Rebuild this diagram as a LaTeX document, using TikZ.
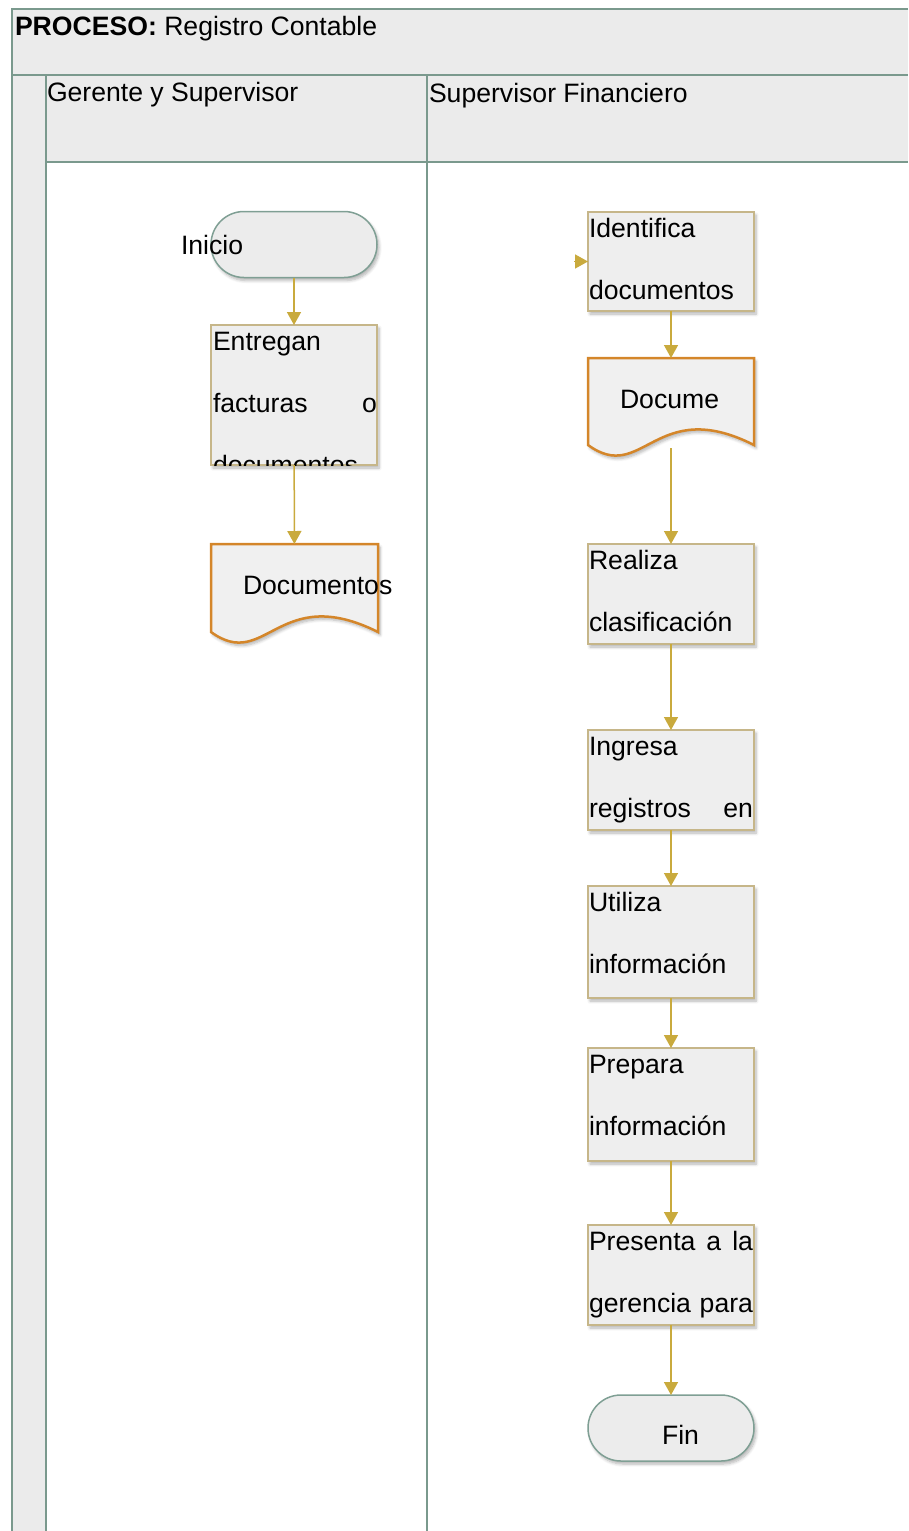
\documentclass[tikz,border=0pt]{standalone}
\usepackage{fontspec}
\setmainfont{Liberation Sans}
\usetikzlibrary{arrows.meta,shadows.blur}

\definecolor{framec}{HTML}{7A998D}
\definecolor{bandfill}{HTML}{EBEBEB}
\definecolor{boxfill}{HTML}{EEEEEE}
\definecolor{boxline}{HTML}{C6B689}
\definecolor{docline}{HTML}{D4862A}
\definecolor{docfill}{HTML}{F0F0F0}
\definecolor{termline}{HTML}{7F9F94}
\definecolor{termfill}{HTML}{ECECEC}
\definecolor{arrowc}{HTML}{C9AA3D}

\begin{document}
\begin{tikzpicture}[x=1pt,y=-1pt,
  every node/.style={font=\fontsize{26.6}{31}\selectfont, inner sep=0pt, outer sep=0pt},
  lbl/.style={anchor=base west},
  lane/.style={draw=framec, line width=2pt},
  softshadow/.style={blur shadow={shadow xshift=2pt, shadow yshift=-3pt,
      shadow blur steps=6, shadow blur radius=3pt, shadow opacity=30}},
  procbox/.style={draw=boxline, line width=1.5pt, fill=boxfill,
      minimum width=166pt, softshadow},
  termbox/.style={draw=termline, line width=1.5pt, fill=termfill,
      rounded corners=33pt, minimum width=166pt, minimum height=66pt, softshadow},
  docbox/.style={draw=docline, line width=2.5pt, fill=docfill, softshadow},
  anchorbox/.style={draw=none, fill=none, minimum width=167pt},
  flow/.style={draw=arrowc, line width=1.5pt,
      -{Triangle[length=13pt, width=14pt]}}]

\useasboundingbox (0,0) rectangle (908,1531);

% swimlane frame
\fill[bandfill] (12,9) rectangle (908,75);
\fill[bandfill] (12,75) rectangle (46,1531);
\fill[bandfill] (46,75) rectangle (908,162);
\draw[lane] (908,9) -- (12,9) -- (12,1531);
\draw[lane] (12,75) -- (908,75);
\draw[lane] (46,75) -- (46,1531);
\draw[lane] (46,162) -- (908,162);
\draw[lane] (427,75) -- (427,1531);

\node[lbl] (title) at (15,35) {\textbf{PROCESO:} Registro Contable};
\node[lbl] (laneA) at (47,101) {Gerente y Supervisor};
\node[lbl] (laneB) at (429,102) {Supervisor Financiero};

% ---- lane: Gerente y Supervisor ----
\node[termbox] (inicio) at (294,244.5) {};
\node[lbl] (inicioT) at (181,254) {Inicio};

\node[procbox, minimum height=140pt] (entregan) at (294,395) {};
\begin{scope}
  \clip (entregan.north west) rectangle (entregan.south east);
  \node[lbl] (entreganA) at (213,350) {Entregan};
  \node[lbl] (entreganB) at (213,412) {\hbox to 164pt{facturas\hfill o}};
  \node[lbl] (entreganC) at (213,474) {documentos};
\end{scope}

\path[docbox] (211,544) -- (378,544) -- (378,632)
  .. controls (278,582) and (266,672) .. (211,632) -- cycle;
\node[anchorbox, minimum height=88pt] (docs) at (294.5,588) {};
\node[lbl] (docsT) at (243,594) {Documentos};

% ---- lane: Supervisor Financiero ----
\node[procbox, minimum height=99pt] (ident) at (671,261.5) {};
\begin{scope}
  \clip (ident.north west) rectangle (ident.south east);
  \node[lbl] (identA) at (589,237) {Identifica};
  \node[lbl] (identB) at (589,299) {documentos};
\end{scope}

\path[docbox] (588,358) -- (754,358) -- (754,445)
  .. controls (655,395) and (643,485) .. (588,445) -- cycle;
\node[anchorbox, minimum height=90pt] (docume) at (671,403) {};
\begin{scope}
  \clip (590,360) rectangle (752,408);
  \node[lbl] (documeT) at (620,408) {Docume};
\end{scope}

\node[procbox, minimum height=100pt] (realiza) at (671,594) {};
\begin{scope}
  \clip (realiza.north west) rectangle (realiza.south east);
  \node[lbl] (realizaA) at (589,569) {Realiza};
  \node[lbl] (realizaB) at (589,631) {clasificación};
\end{scope}

\node[procbox, minimum height=100pt] (ingresa) at (671,780) {};
\begin{scope}
  \clip (ingresa.north west) rectangle (ingresa.south east);
  \node[lbl] (ingresaA) at (589,755) {Ingresa};
  \node[lbl] (ingresaB) at (589,817) {\hbox to 164pt{registros\hfill en}};
\end{scope}

\node[procbox, minimum height=112pt] (utiliza) at (671,942) {};
\begin{scope}
  \clip (utiliza.north west) rectangle (utiliza.south east);
  \node[lbl] (utilizaA) at (589,911) {Utiliza};
  \node[lbl] (utilizaB) at (589,973) {información};
\end{scope}

\node[procbox, minimum height=113pt] (prepara) at (671,1104.5) {};
\begin{scope}
  \clip (prepara.north west) rectangle (prepara.south east);
  \node[lbl] (preparaA) at (589,1073) {Prepara};
  \node[lbl] (preparaB) at (589,1135) {información};
\end{scope}

\node[procbox, minimum height=100pt] (presenta) at (671,1275) {};
\begin{scope}
  \clip (presenta.north west) rectangle (presenta.south east);
  \node[lbl] (presentaA) at (589,1250) {\hbox to 164pt{Presenta\hfill a\hfill la}};
  \node[lbl] (presentaB) at (589,1312) {\hbox to 164pt{gerencia\hfill para}};
\end{scope}

\node[termbox] (fin) at (671,1428) {};
\node[lbl] (finT) at (662,1444) {Fin};

% ---- connectors ----
\coordinate (entry) at (574,261.5);
\draw[flow] (inicio) -- (entregan);
\draw[flow] (entregan) -- (docs);
\draw[flow] (entry) -- (ident);
\draw[flow] (ident) -- (docume);
\draw[flow] (docume) -- (realiza);
\draw[flow] (realiza) -- (ingresa);
\draw[flow] (ingresa) -- (utiliza);
\draw[flow] (utiliza) -- (prepara);
\draw[flow] (prepara) -- (presenta);
\draw[flow] (presenta) -- (fin);
\end{tikzpicture}
\end{document}
